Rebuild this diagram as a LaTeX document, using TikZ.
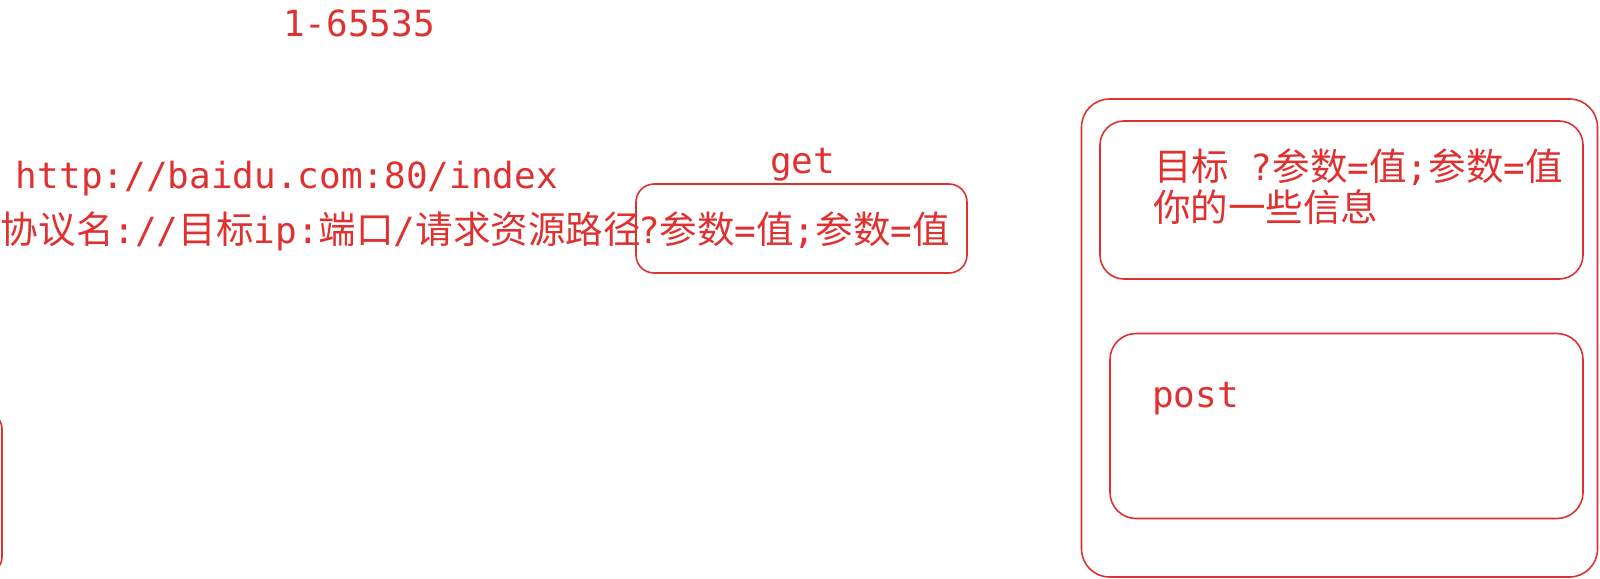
\documentclass[tikz,border=0pt]{standalone}
\usepackage{fontspec}
\setmainfont{DejaVu Sans Mono}
\newfontfamily\cjk[Scale=1.043]{Noto Sans CJK SC}
\newcommand{\zh}[1]{{\cjk #1}}
\definecolor{exred}{RGB}{224,49,49}
\begin{document}
\begin{tikzpicture}[x=0.5pt,y=-0.5pt,
  lbl/.style={text=exred,inner sep=0pt,outer sep=0pt,anchor=base west,
    font=\fontsize{18pt}{22pt}\selectfont},
  box/.style={draw=exred,line width=0.8pt,inner sep=0pt,outer sep=0pt}]
\useasboundingbox (0,0) rectangle (1600,578);
% texts
\node[lbl] (port) at (283,36) {1-65535};
\node[lbl] (url) at (16,188) {http://baidu.com:80/index};
\node[lbl] (fmt) at (1,243) {\zh{协议名}://\zh{目标}ip:\zh{端口}/\zh{请求资源路径}};
\node[lbl] (getq) at (638,243) {?\zh{参数}=\zh{值};\zh{参数}=\zh{值}};
\node[lbl] (get) at (770,173) {get};
% get box
\node[box,rounded corners=9pt,minimum width=165.5pt,minimum height=44.5pt] (getbox) at (801.5,228.5) {};
% request boxes
\node[box,rounded corners=14pt,minimum width=258pt,minimum height=239pt] (req) at (1339.5,338) {};
\node[box,rounded corners=12pt,minimum width=241.5pt,minimum height=79pt] (head) at (1341.5,200) {};
\node[box,rounded corners=13pt,minimum width=236.5pt,minimum height=92.5pt] (body) at (1346.5,426) {};
\node[lbl] (h1) at (1154,180) {\zh{目标} ?\zh{参数}=\zh{值};\zh{参数}=\zh{值}};
\node[lbl] (h2) at (1153,221) {\zh{你的一些信息}};
\node[lbl] (post) at (1152,407) {post};
% left fragment
\begin{scope}
\clip (0,0) rectangle (1600,578);
\node[box,rounded corners=8pt,minimum width=100pt,minimum height=80pt] (frag) at (-98,493) {};
\end{scope}
\end{tikzpicture}
\end{document}
